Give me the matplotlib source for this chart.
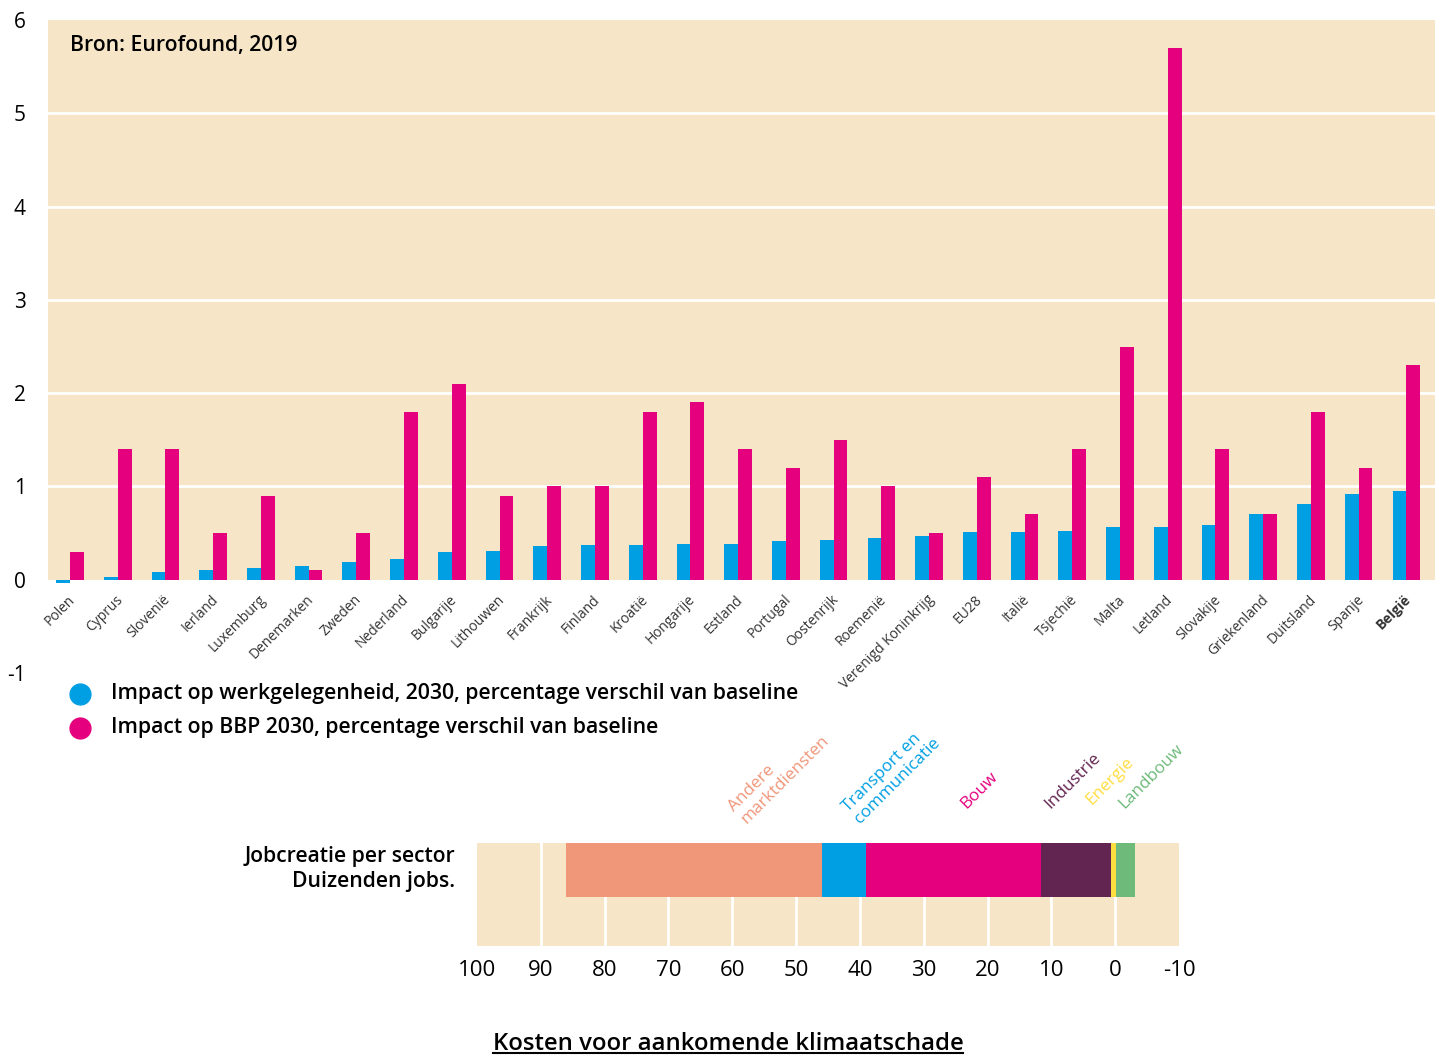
import matplotlib.pyplot as plt
from matplotlib.lines import Line2D
import numpy as np

plt.rcParams['font.family'] = ['Open Sans', 'DejaVu Sans']

# Eurofound 2019: impact 2030, % difference from baseline
landen = ['Polen', 'Cyprus', 'Slovenië', 'Ierland', 'Luxemburg', 'Denemarken', 'Zweden',
          'Nederland', 'Bulgarije', 'Lithouwen', 'Frankrijk', 'Finland', 'Kroatië',
          'Hongarije', 'Estland', 'Portugal', 'Oostenrijk', 'Roemenië',
          'Verenigd Koninkrijg', 'EU28', 'Italië', 'Tsjechië', 'Malta', 'Letland',
          'Slovakije', 'Griekenland', 'Duitsland', 'Spanje', 'België']
werkgelegenheid = [-0.03, 0.03, 0.08, 0.10, 0.13, 0.15, 0.19, 0.22, 0.30, 0.31, 0.36, 0.37,
                   0.37, 0.38, 0.38, 0.41, 0.43, 0.45, 0.47, 0.51, 0.51, 0.52, 0.57, 0.57,
                   0.59, 0.70, 0.81, 0.92, 0.95]
bbp = [0.3, 1.4, 1.4, 0.5, 0.9, 0.1, 0.5, 1.8, 2.1, 0.9, 1.0, 1.0, 1.8, 1.9, 1.4, 1.2,
       1.5, 1.0, 0.5, 1.1, 0.7, 1.4, 2.5, 5.7, 1.4, 0.7, 1.8, 1.2, 2.3]

# job creation per sector (thousands), stacked from the right
sectoren = ['Landbouw', 'Energie', 'Industrie', 'Bouw', 'Transport en\ncommunicatie',
            'Andere\nmarktdiensten']
jobs = [3.0, 0.7, 11.1, 27.3, 7.0, 40.0]
jobs_start = -3.1

BLAUW = '#009FE3'
ROZE = '#E5007E'
BEIGE = '#F6E6C7'
sector_kleuren = ['#6DBA7A', '#FFDE3F', '#622450', '#E5007E', '#009FE3', '#F0977A']

fig = plt.figure(figsize=(14.35, 10.55), dpi=100)

# --- top chart ---
ax = fig.add_axes([48 / 1435, 1 - 673 / 1055, 1 - 48 / 1435, (673 - 20) / 1055])
ax.set_facecolor('white')
ax.axhspan(0, 6, color=BEIGE, zorder=0, lw=0)
for y in range(1, 6):
    ax.axhline(y, color='white', lw=2, zorder=1)

x = np.arange(len(landen))
w = 0.29
ax.bar(x - w / 2, werkgelegenheid, width=w, color=BLAUW, zorder=2)
ax.bar(x + w / 2, bbp, width=w, color=ROZE, zorder=2)

ax.set_xlim(-0.46, len(landen) - 0.4)
ax.set_ylim(-1, 6)
ax.set_yticks(range(-1, 7))
ax.set_yticklabels([str(v) for v in range(-1, 7)], fontsize=15)
ax.tick_params(axis='y', length=0, pad=16)
ax.set_xticks([])
for s in ax.spines.values():
    s.set_visible(False)

for i, naam in enumerate(landen):
    ax.text(i + 0.06, -0.19, naam, rotation=45, rotation_mode='anchor',
            ha='right', va='center', fontsize=10, color='#333333',
            fontweight='bold' if naam == 'België' else 'normal')

ax.text(70 / 1435, 1 - 45 / 1055, 'Bron: Eurofound, 2019', transform=fig.transFigure,
        fontsize=15.2, fontweight='semibold', va='center')

# legend
for kleur, tekst, ypix in [(BLAUW, 'Impact op werkgelegenheid, 2030, percentage verschil van baseline', 694),
                           (ROZE, 'Impact op BBP 2030, percentage verschil van baseline', 728)]:
    fig.add_artist(Line2D([80 / 1435], [1 - ypix / 1055], marker='o', markersize=15,
                          color=kleur, transform=fig.transFigure))
    fig.text(111 / 1435, 1 - ypix / 1055, tekst, fontsize=15.3, fontweight='semibold',
             va='center')

# --- bottom chart ---
bx = fig.add_axes([477 / 1435, 1 - 946 / 1055, (1179 - 477) / 1435, (946 - 843) / 1055])
bx.set_facecolor(BEIGE)
bx.set_xlim(100, -10)
bx.set_ylim(0, 1)
for g in range(0, 100, 10):
    bx.axvline(g, color='white', lw=2, zorder=1)

links = jobs_start
for naam, waarde, kleur in zip(sectoren, jobs, sector_kleuren):
    bx.barh(0.738, waarde, left=links, height=0.524, color=kleur, zorder=2)
    links += waarde

bx.set_xticks(range(100, -20, -10))
bx.set_xticklabels([str(v) for v in range(100, -20, -10)], fontsize=16)
bx.tick_params(axis='x', length=0, pad=10)
bx.set_yticks([])
for s in bx.spines.values():
    s.set_visible(False)

# sector names above the bar
label_pos = {'Andere\nmarktdiensten': (57.4, 1.16), 'Transport en\ncommunicatie': (39.5, 1.16),
             'Bouw': (22.9, 1.30), 'Industrie': (9.7, 1.30), 'Energie': (3.3, 1.34),
             'Landbouw': (-1.9, 1.30)}
for naam, kleur in zip(sectoren, sector_kleuren):
    lx, ly = label_pos[naam]
    bx.text(lx, ly, naam, rotation=45, rotation_mode='anchor', ha='left', va='bottom',
            color=kleur, fontsize=12.3, transform=bx.get_xaxis_transform(), clip_on=False,
            linespacing=1.05)

fig.text(455 / 1435, 1 - 869 / 1055, 'Jobcreatie per sector\nDuizenden jobs.', ha='right',
         va='center', fontsize=15.2, fontweight='semibold', linespacing=1.2)

titel = fig.text(728 / 1435, 1 - 1050 / 1055, 'Kosten voor aankomende klimaatschade',
                 ha='center', va='baseline', fontsize=17.2, fontweight='semibold')
fig.canvas.draw()
bb = titel.get_window_extent().transformed(fig.transFigure.inverted())
fig.add_artist(Line2D([bb.x0, bb.x1], [1 - 1053 / 1055] * 2, color='black', lw=1.5,
                      transform=fig.transFigure))

fig.savefig('out.png', dpi=100)
